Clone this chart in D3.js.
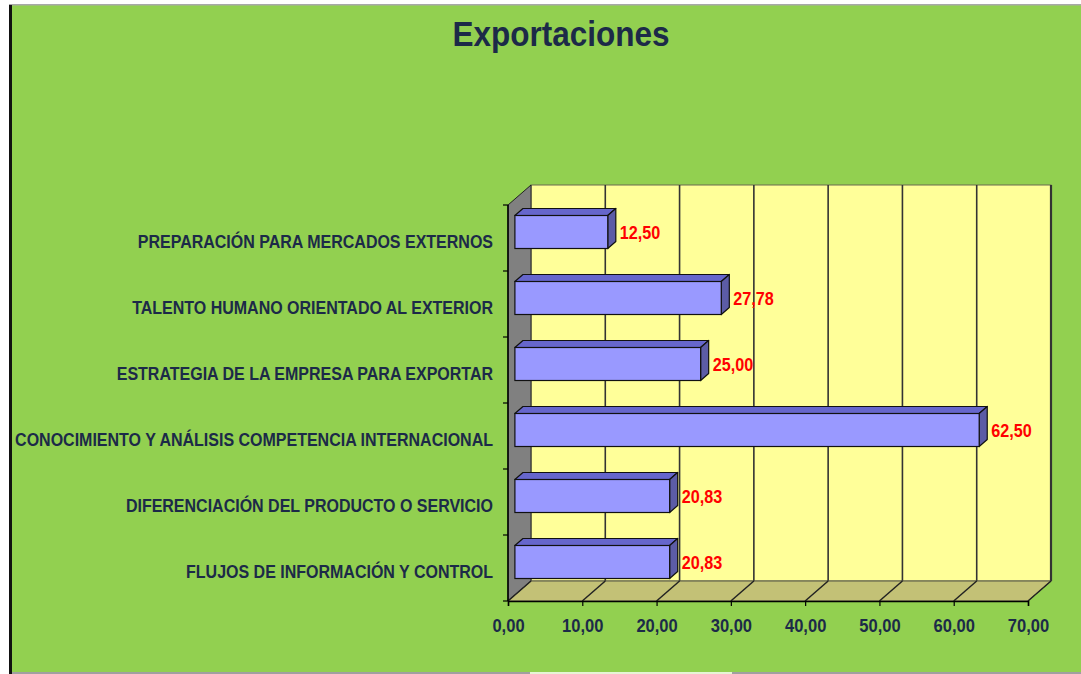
<!DOCTYPE html>
<html>
<head>
<meta charset="utf-8">
<script src="https://cdn.jsdelivr.net/npm/d3@7"></script>
<style>
  body { margin: 0; background: #ffffff; }
  svg { display: block; }
</style>
</head>
<body>
<div id="chart"></div>
<script>
var categories = [
  "PREPARACIÓN PARA MERCADOS EXTERNOS",
  "TALENTO HUMANO ORIENTADO AL EXTERIOR",
  "ESTRATEGIA DE LA EMPRESA PARA EXPORTAR",
  "CONOCIMIENTO Y ANÁLISIS COMPETENCIA INTERNACIONAL",
  "DIFERENCIACIÓN DEL PRODUCTO O SERVICIO",
  "FLUJOS DE INFORMACIÓN Y CONTROL"
];
var values = [12.50, 27.78, 25.00, 62.50, 20.83, 20.83];
var xTicks = [0, 10, 20, 30, 40, 50, 60, 70];
var title = "Exportaciones";

var W = 1081, H = 674;
var font = "'Liberation Sans', Arial, sans-serif";

// 3D depth offset of the plot box
var depthX = 23, depthY = -20;
// bars sit from 0.3 to 0.65 of the depth
var barT0 = 0.3, barT1 = 0.65;

var esLocale = d3.formatLocale({decimal: ",", thousands: ".", grouping: [3], currency: ["", "€"]});
var fmt = esLocale.format(".2f");

var x = d3.scaleLinear().domain([0, 70]).range([508, 1028]);
var y = d3.scaleBand().domain(categories).range([205, 601]).padding(0);

var svg = d3.select("#chart").append("svg")
    .attr("width", W)
    .attr("height", H);

// condensed bold text (squeezed horizontally like the narrow font of the original)
function narrowText(sel, tx, ty, size, squeeze, anchor, color, str) {
    return sel.append("text")
        .attr("transform", "translate(" + tx + "," + ty + ") scale(" + squeeze + ",1)")
        .attr("text-anchor", anchor)
        .attr("font-family", font)
        .attr("font-weight", "bold")
        .attr("font-size", size)
        .attr("fill", color)
        .text(str);
}

// background
svg.append("rect").attr("x", 0).attr("y", 0).attr("width", W).attr("height", H).attr("fill", "#ffffff");
svg.append("rect").attr("x", 9).attr("y", 5).attr("width", W - 9).attr("height", 667).attr("fill", "#92d050");
svg.append("rect").attr("x", 9).attr("y", 4).attr("width", W - 9).attr("height", 1.5).attr("fill", "#a8a8a8");
svg.append("rect").attr("x", 9).attr("y", 5).attr("width", 3).attr("height", H - 5).attr("fill", "#111111");
svg.append("rect").attr("x", 12).attr("y", 672).attr("width", W - 12).attr("height", 2).attr("fill", "#a0a0a0");
svg.append("rect").attr("x", 530).attr("y", 672).attr("width", 202).attr("height", 2).attr("fill", "#e6f5d6");

// title
narrowText(svg, 561, 46, 36, 0.875, "middle", "#1c2a48", title);

var x0 = x(0), x1 = x(70);
var yTop = y.range()[0], yBot = y.range()[1];

// back wall
var g = svg.append("g");
g.append("rect")
    .attr("x", x0 + depthX).attr("y", yTop + depthY)
    .attr("width", x1 - x0).attr("height", yBot - yTop)
    .attr("fill", "#ffff99")
    .attr("stroke", "#6b6b50").attr("stroke-width", 1);

// gridlines on back wall
g.selectAll(".grid").data(xTicks.slice(1)).enter().append("line")
    .attr("x1", function (d) { return x(d) + depthX; })
    .attr("x2", function (d) { return x(d) + depthX; })
    .attr("y1", yTop + depthY)
    .attr("y2", yBot + depthY)
    .attr("stroke", "#333333").attr("stroke-width", 1.6);
g.append("line")
    .attr("x1", x1 + depthX).attr("x2", x1 + depthX)
    .attr("y1", yTop + depthY).attr("y2", yBot + depthY)
    .attr("stroke", "#333333").attr("stroke-width", 2.2);

// left wall
g.append("path")
    .attr("d", "M" + x0 + "," + yTop + "L" + (x0 + depthX) + "," + (yTop + depthY) +
        "L" + (x0 + depthX) + "," + (yBot + depthY) + "L" + x0 + "," + yBot + "Z")
    .attr("fill", "#808080")
    .attr("stroke", "#222222").attr("stroke-width", 1);

// floor
g.append("path")
    .attr("d", "M" + x0 + "," + yBot + "L" + (x0 + depthX) + "," + (yBot + depthY) +
        "L" + (x1 + depthX) + "," + (yBot + depthY) + "L" + x1 + "," + yBot + "Z")
    .attr("fill", "#c3c176")
    .attr("stroke", "#555544").attr("stroke-width", 1);

g.selectAll(".floorgrid").data(xTicks).enter().append("line")
    .attr("x1", function (d) { return x(d); })
    .attr("x2", function (d) { return x(d) + depthX; })
    .attr("y1", yBot)
    .attr("y2", yBot + depthY)
    .attr("stroke", "#222222").attr("stroke-width", 1.5);

// bars
var bh = y.bandwidth() * 0.5;
var fx = depthX * barT0, fy = depthY * barT0;
var bx = depthX * (barT1 - barT0), by = depthY * (barT1 - barT0);

var bars = g.selectAll(".bar").data(values).enter().append("g");

bars.each(function (d, i) {
    var sel = d3.select(this);
    var left = x(0) + fx;
    var right = x(d) + fx;
    var top = y(categories[i]) + (y.bandwidth() - bh) / 2 + fy;
    var bottom = top + bh;
    // top face
    sel.append("path")
        .attr("d", "M" + left + "," + top + "L" + (left + bx) + "," + (top + by) +
            "L" + (right + bx) + "," + (top + by) + "L" + right + "," + top + "Z")
        .attr("fill", "#6666cc").attr("stroke", "#111111").attr("stroke-width", 1.2)
        .attr("stroke-linejoin", "round");
    // side face
    sel.append("path")
        .attr("d", "M" + right + "," + top + "L" + (right + bx) + "," + (top + by) +
            "L" + (right + bx) + "," + (bottom + by) + "L" + right + "," + bottom + "Z")
        .attr("fill", "#5c5ca6").attr("stroke", "#111111").attr("stroke-width", 1.2)
        .attr("stroke-linejoin", "round");
    // front face
    sel.append("rect")
        .attr("x", left).attr("y", top)
        .attr("width", right - left).attr("height", bh)
        .attr("fill", "#9999ff").attr("stroke", "#111111").attr("stroke-width", 1.2);
    // value label
    narrowText(sel, right + bx + 4, top + bh / 2 + 6.5, 18, 0.9, "start", "#ff0000", fmt(d));
});

// vertical category axis
g.append("line")
    .attr("x1", x0).attr("x2", x0)
    .attr("y1", yTop).attr("y2", yBot)
    .attr("stroke", "#000000").attr("stroke-width", 1.5);
var bounds = categories.map(function (c) { return y(c); }).concat([yBot]);
g.selectAll(".ytick").data(bounds).enter().append("line")
    .attr("x1", x0 - 5).attr("x2", x0)
    .attr("y1", function (d) { return d; })
    .attr("y2", function (d) { return d; })
    .attr("stroke", "#000000").attr("stroke-width", 1.2);

categories.forEach(function (c) {
    narrowText(g, 493, y(c) + y.bandwidth() / 2 + 9.5, 18, 0.89, "end", "#1c2a48", c);
});

// horizontal value axis
var xAxis = svg.append("g")
    .attr("transform", "translate(0," + yBot + ")")
    .call(d3.axisBottom(x).tickValues(xTicks).tickSize(5).tickPadding(12).tickFormat(fmt));
xAxis.select(".domain").attr("stroke", "#000000").attr("stroke-width", 1.5);
xAxis.selectAll(".tick line").attr("stroke", "#000000").attr("stroke-width", 1.2);
xAxis.selectAll(".tick text").remove();
xAxis.selectAll(".tick").each(function (d) {
    narrowText(d3.select(this), 0, 31, 19, 0.87, "middle", "#1c2a48", fmt(d));
});
</script>
</body>
</html>
